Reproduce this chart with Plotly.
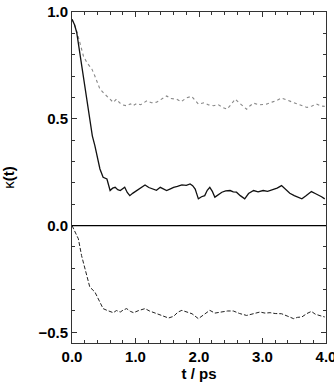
import plotly.graph_objects as go

# upper curve (dotted, grey)
t_upper = [0.0,0.04,0.08,0.12,0.18,0.24,0.28,0.31,0.36,0.44,0.50,0.55,0.60,0.65,0.70,0.75,0.80,0.86,0.92,0.96,
           1.02,1.08,1.18,1.25,1.33,1.40,1.49,1.55,1.65,1.72,1.80,1.885,1.95,1.99,2.08,2.15,2.23,2.30,2.37,2.44,
           2.50,2.57,2.63,2.70,2.75,2.80,2.86,2.95,3.07,3.15,3.22,3.30,3.38,3.49,3.58,3.64,3.70,3.78,3.85,3.92,3.98]
k_upper = [0.966,0.94,0.905,0.86,0.794,0.76,0.748,0.735,0.70,0.639,0.62,0.607,0.59,0.577,0.592,0.575,0.565,0.561,0.57,0.561,
           0.572,0.566,0.584,0.575,0.577,0.59,0.607,0.595,0.592,0.58,0.598,0.605,0.585,0.569,0.575,0.565,0.561,0.567,0.553,0.545,
           0.565,0.592,0.575,0.558,0.545,0.56,0.573,0.565,0.569,0.578,0.585,0.597,0.588,0.577,0.565,0.557,0.553,0.56,0.569,0.56,0.558]

# middle curve (solid, black)
t_mid = [0.0,0.04,0.074,0.11,0.15,0.19,0.23,0.28,0.32,0.36,0.40,0.44,0.49,0.55,0.60,0.64,0.68,0.72,0.76,0.80,
         0.83,0.87,0.91,0.96,1.02,1.08,1.15,1.21,1.28,1.33,1.39,1.44,1.49,1.55,1.60,1.66,1.73,1.80,1.86,1.90,
         1.94,1.99,2.04,2.09,2.13,2.17,2.21,2.25,2.30,2.36,2.42,2.49,2.54,2.59,2.65,2.72,2.78,2.86,2.93,3.01,
         3.08,3.17,3.23,3.30,3.36,3.43,3.50,3.56,3.62,3.68,3.77,3.83,3.88,3.93,3.98]
k_mid = [0.966,0.94,0.904,0.83,0.748,0.67,0.592,0.48,0.42,0.374,0.32,0.265,0.226,0.218,0.164,0.175,0.179,0.168,0.164,0.172,
         0.179,0.155,0.140,0.152,0.164,0.172,0.190,0.178,0.171,0.165,0.179,0.170,0.164,0.172,0.179,0.183,0.190,0.188,0.195,0.187,
         0.171,0.125,0.135,0.140,0.165,0.179,0.160,0.133,0.145,0.156,0.162,0.164,0.158,0.156,0.140,0.125,0.150,0.164,0.158,0.164,
         0.160,0.167,0.175,0.187,0.170,0.151,0.140,0.132,0.125,0.138,0.159,0.150,0.143,0.135,0.125]

# lower curve (dashed, black)
t_low = [0.0,0.05,0.10,0.15,0.20,0.24,0.28,0.36,0.44,0.49,0.55,0.60,0.65,0.70,0.76,0.81,0.86,0.92,0.97,1.05,
         1.10,1.15,1.22,1.33,1.42,1.52,1.60,1.67,1.73,1.80,1.89,1.99,2.08,2.17,2.25,2.36,2.45,2.54,2.64,2.75,
         2.85,2.96,3.04,3.12,3.20,3.30,3.40,3.49,3.55,3.62,3.70,3.77,3.83,3.88,3.94,3.98]
k_low = [0.0,-0.03,-0.062,-0.14,-0.202,-0.25,-0.288,-0.311,-0.358,-0.389,-0.397,-0.402,-0.408,-0.398,-0.405,-0.395,-0.389,-0.402,-0.408,-0.398,
         -0.392,-0.389,-0.400,-0.413,-0.422,-0.433,-0.425,-0.405,-0.397,-0.405,-0.413,-0.436,-0.418,-0.397,-0.410,-0.405,-0.400,-0.400,-0.412,-0.421,
         -0.412,-0.405,-0.410,-0.408,-0.412,-0.413,-0.425,-0.436,-0.430,-0.428,-0.412,-0.402,-0.415,-0.421,-0.425,-0.428]

x_range = [0.0, 4.0]
y_range = [-0.55, 1.0]

fig = go.Figure()
fig.add_trace(go.Scatter(x=t_upper, y=k_upper, mode="lines",
                         line=dict(color="#888888", width=1.1, dash="dot"), showlegend=False))
fig.add_trace(go.Scatter(x=t_mid, y=k_mid, mode="lines",
                         line=dict(color="#111111", width=1.3), showlegend=False))
fig.add_trace(go.Scatter(x=t_low, y=k_low, mode="lines",
                         line=dict(color="#222222", width=1.0, dash="4px,2px"), showlegend=False))
fig.add_hline(y=0, line=dict(color="#000000", width=1.2))

tickfont = dict(family="Liberation Sans", size=15, color="#000000", weight="bold")
fig.update_layout(
    width=334, height=386,
    margin=dict(l=72, r=8, t=12, b=43),
    paper_bgcolor="white", plot_bgcolor="white",
    font=dict(family="Liberation Sans", color="#000000"),
    xaxis=dict(range=x_range, dtick=1.0, tick0=0, tickformat=".1f", automargin=False,
               ticks="inside", ticklen=5, tickwidth=1, tickcolor="#333333",
               minor=dict(dtick=0.2, ticks="inside", ticklen=3, tickcolor="#333333"),
               showline=True, linecolor="#333333", linewidth=1, mirror="ticks",
               showgrid=False, zeroline=False, ticklabeloverflow="allow",
               tickfont=tickfont,
               title=dict(text="<b>t / ps</b>", font=dict(family="Liberation Sans", size=15), standoff=2)),
    yaxis=dict(range=y_range, dtick=0.5, tick0=0, tickformat=".1f", automargin=False,
               ticks="inside", ticklen=5, tickwidth=1, tickcolor="#333333",
               minor=dict(dtick=0.1, ticks="inside", ticklen=3, tickcolor="#333333"),
               showline=True, linecolor="#333333", linewidth=1, mirror="ticks",
               showgrid=False, zeroline=False,
               tickfont=tickfont,
               title=dict(text="κ<b>(t)</b>", font=dict(family="Liberation Sans", size=15), standoff=24)),
)

fig.write_html("out.html")
